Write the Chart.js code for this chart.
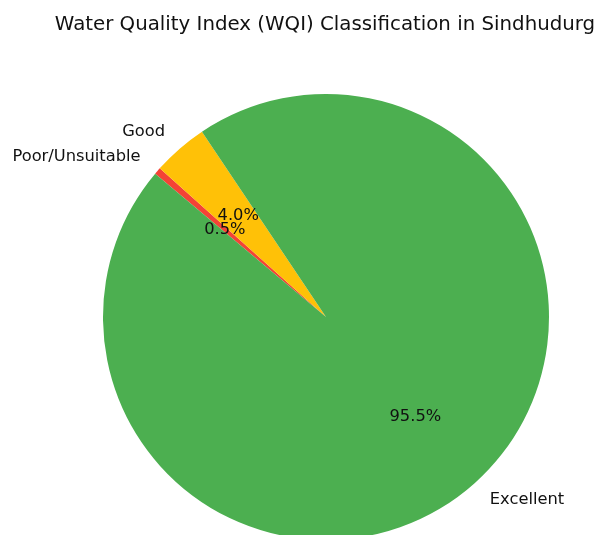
<!DOCTYPE html>
<html>
<head>
<meta charset="utf-8">
<script src="https://cdn.jsdelivr.net/npm/chart.js@4"></script>
<style>
html,body{margin:0;padding:0;background:#fff;overflow:hidden;}
#wrap{width:601px;height:560px;position:relative;}
</style>
</head>
<body>
<div id="wrap"><canvas id="c" width="601" height="560"></canvas></div>
<script>
// Data (order as drawn clockwise by Chart.js, starting from matplotlib's 140° start)
const categories = ['Poor/Unsuitable', 'Good', 'Excellent'];
const values = [0.5, 4.0, 95.5];
const colors = ['#F44336', '#FFC107', '#4CAF50'];
const titleText = 'Water Quality Index (WQI) Classification in Sindhudurg';

const FONT = '"DejaVu Sans", sans-serif';

const labelPlugin = {
  id: 'pieLabels',
  afterDatasetsDraw(chart) {
    const ctx = chart.ctx;
    const meta = chart.getDatasetMeta(0);
    const total = values.reduce((a, b) => a + b, 0);
    ctx.save();
    ctx.textBaseline = 'middle';
    meta.data.forEach((arc, i) => {
      const mid = (arc.startAngle + arc.endAngle) / 2;
      const r = arc.outerRadius;
      const cx = arc.x, cy = arc.y;
      const cos = Math.cos(mid), sin = Math.sin(mid);
      // percentage
      ctx.font = '16.3px ' + FONT;
      ctx.fillStyle = '#111';
      ctx.textAlign = 'center';
      const pct = (values[i] / total * 100).toFixed(1) + '%';
      ctx.fillText(pct, cx + 0.6 * r * cos, cy + 0.6 * r * sin);
      // category label
      ctx.fillStyle = '#111';
      ctx.textAlign = cos < 0 ? 'right' : 'left';
      ctx.fillText(categories[i], cx + 1.1 * r * cos, cy + 1.1 * r * sin);
    });
    // title
    ctx.font = '19.8px ' + FONT;
    ctx.textAlign = 'center';
    ctx.fillStyle = '#111';
    ctx.fillText(titleText, 325, 25);
    ctx.restore();
  }
};

new Chart(document.getElementById('c'), {
  type: 'pie',
  data: {
    labels: categories,
    datasets: [{
      data: values,
      backgroundColor: colors,
      borderWidth: 0
    }]
  },
  options: {
    responsive: false,
    animation: false,
    rotation: -50,
    layout: { padding: { left: 103, right: 52, top: 94, bottom: 20 } },
    plugins: {
      legend: { display: false },
      tooltip: { enabled: false },
      title: { display: false }
    }
  },
  plugins: [labelPlugin]
});
</script>
</body>
</html>
